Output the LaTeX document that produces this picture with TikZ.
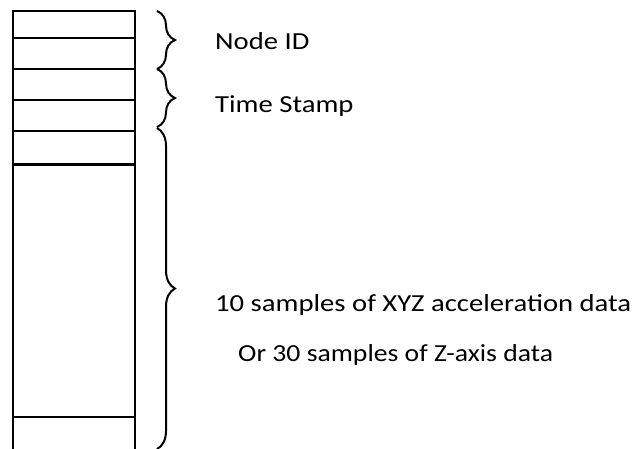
\documentclass[tikz,border=0pt]{standalone}
\usepackage{fontspec}
\setmainfont[FakeStretch=1.17]{Carlito}
\newfontfamily\narrowcal[FakeStretch=1.13]{Carlito}
\usetikzlibrary{decorations.pathreplacing}
\begin{document}
\begin{tikzpicture}[x=1pt,y=-1pt,
  frame/.style={draw=black,line width=2.6pt},
  divider/.style={draw=black,line width=2pt},
  thickdivider/.style={draw=black,line width=3pt},
  bracket/.style={draw=black,line width=2pt,
    decorate,decoration={brace,amplitude=18pt,aspect=0.5}},
  label/.style={anchor=base west,inner sep=0pt,font=\fontsize{24.5}{28}\selectfont}]
  \useasboundingbox (0,0) rectangle (636,448);
  % packet frame (bottom edge runs past the page)
  \coordinate (tl) at (13,11);
  \coordinate (br) at (135,452);
  \draw[frame] (tl) rectangle (br);
  % field dividers
  \foreach \yy in {38,69,100,131,417}{
    \draw[divider] (13,\yy) -- (135,\yy);
  }
  \draw[thickdivider] (13,164) -- (135,164);
  % braces grouping the fields
  \coordinate (b1t) at (157,11);  \coordinate (b1b) at (157,69);
  \coordinate (b2t) at (157,69);  \coordinate (b2b) at (157,127);
  \coordinate (b3t) at (157,128); \coordinate (b3b) at (157,449);
  \draw[bracket] (b1t) -- (b1b);
  \draw[bracket] (b2t) -- (b2b);
  \draw[bracket] (b3t) -- (b3b);
  % field descriptions
  \node[label] (nid) at (215,49) {Node ID};
  \node[label] (ts) at (215,112) {Time Stamp};
  \node[label] (acc) at (215,311) {10 samples of XYZ acceleration data};
  \node[label] (zax) at (238,361) {\narrowcal Or 30 samples of Z-axis data};
\end{tikzpicture}
\end{document}
